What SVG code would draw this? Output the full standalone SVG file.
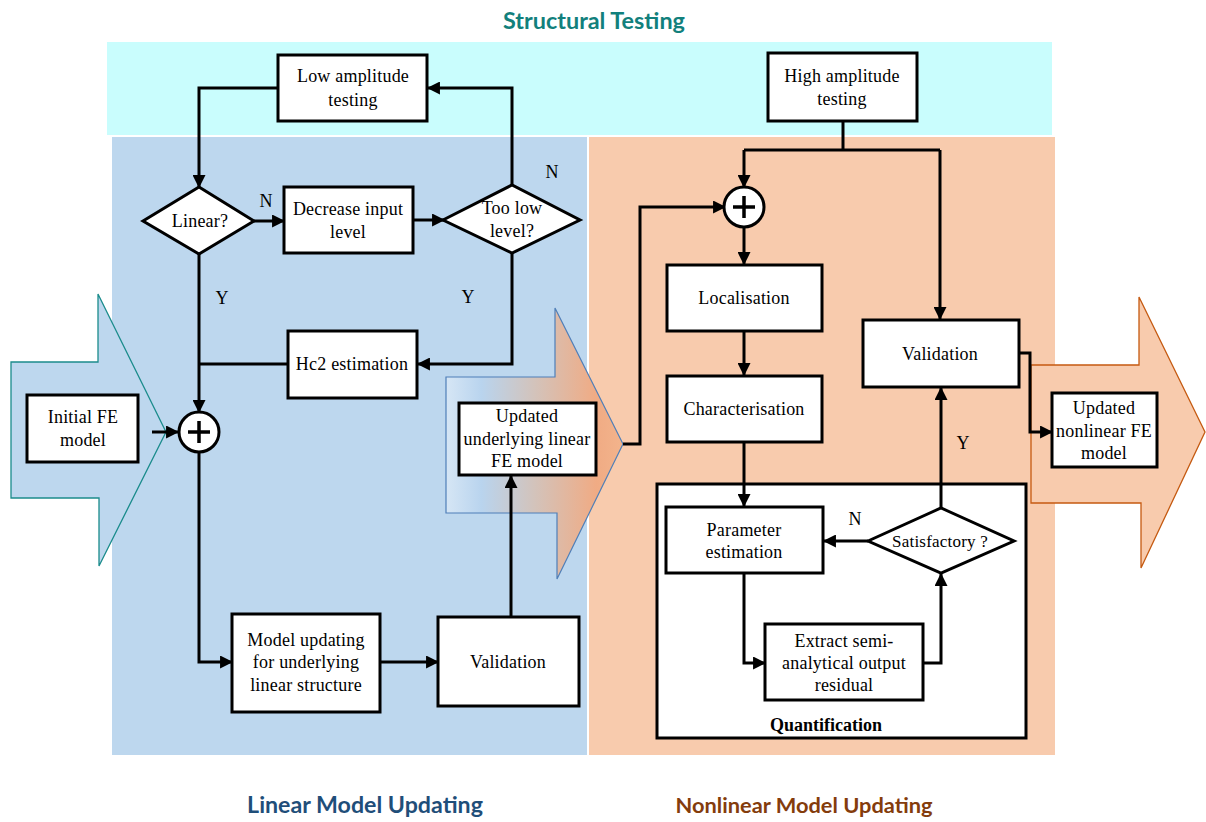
<svg xmlns="http://www.w3.org/2000/svg" width="1206" height="822" viewBox="0 0 1206 822">
<style>
.box{fill:#fff;stroke:#000;stroke-width:3}
.t{font-family:'Liberation Serif','DejaVu Serif',serif;font-size:18px;letter-spacing:0.2px;fill:#000;text-anchor:middle}
.lbl{font-family:'Liberation Serif','DejaVu Serif',serif;font-size:18px;fill:#000;text-anchor:middle}
.qt{font-family:'Liberation Serif','DejaVu Serif',serif;font-size:18px;font-weight:bold;fill:#000;text-anchor:middle}
.c{fill:none;stroke:#000;stroke-width:3}
.ca{fill:none;stroke:#000;stroke-width:3;marker-end:url(#ah)}
.head{font-family:Lato,'Open Sans',sans-serif;font-weight:bold;text-anchor:middle}
</style>
<defs>
<marker id="ah" viewBox="0 0 12 12" refX="11" refY="6" markerWidth="13" markerHeight="13" markerUnits="userSpaceOnUse" orient="auto">
<path d="M0,0 L12,6 L0,12 z" fill="#000"/>
</marker>
<linearGradient id="grad" x1="446" y1="0" x2="623" y2="0" gradientUnits="userSpaceOnUse">
<stop offset="0" stop-color="#d6e6f5"/>
<stop offset="0.2" stop-color="#b9d4ee"/>
<stop offset="0.5" stop-color="#d3c3bb"/>
<stop offset="0.85" stop-color="#f0ab84"/>
<stop offset="1" stop-color="#f3b48c"/>
</linearGradient>
</defs>

<g id="backgrounds">
<text class="head" x="594" y="29" font-size="23.4" fill="#12807c">Structural Testing</text>
<rect x="107" y="42" width="945" height="93" fill="#c9fdfd"/>
<rect x="112" y="137" width="475" height="618" fill="#bdd7ee"/>
<rect x="589" y="137" width="466" height="618" fill="#f8cbad"/>
<text class="head" x="365" y="813" font-size="23.2" fill="#1f4e79">Linear Model Updating</text>
<text class="head" x="804" y="813" font-size="21.8" fill="#843c0c">Nonlinear Model Updating</text>
<polygon points="11,362 98,362 98,294 166,432 99,566 99,498 11,498" fill="#bdd7ee" stroke="#1b8c8c" stroke-width="1.3"/>
<polygon points="446,377 555,377 555,308 623,444 557,579 557,513 446,513" fill="url(#grad)" stroke="#4f7fb8" stroke-width="1.2"/>
<polygon points="1031,365 1139,365 1139,297 1205,432 1141,568 1141,503 1031,503" fill="#f8cbad" stroke="#c55a11" stroke-width="1.3"/>
</g>

<g id="quantification">
<rect class="box" x="657" y="484" width="369" height="254"/>
<text class="qt" x="826" y="731">Quantification</text>
</g>

<g id="connectors">
<polyline class="ca" points="278,88 199,88 199,187"/>
<polyline class="ca" points="254,221 284,221"/>
<polyline class="ca" points="413,220 444,220"/>
<polyline class="ca" points="512,185 512,88 428,88"/>
<polyline class="ca" points="512,253 512,364 418,364"/>
<polyline class="ca" points="199,254 199,412"/>
<polyline class="c" points="288,364 199,364"/>
<polyline class="ca" points="152,432 178,432"/>
<polyline class="ca" points="199,452 199,662 232,662"/>
<polyline class="ca" points="380,662 438,662"/>
<polyline class="ca" points="511,617 511,476"/>
<polyline class="ca" points="623,444 640,444 640,207 725,207"/>
<polyline class="c" points="843,121 843,150"/>
<polyline class="c" points="744,150 940,150"/>
<polyline class="ca" points="744,150 744,187"/>
<polyline class="ca" points="940,150 940,319"/>
<polyline class="ca" points="744,227 744,264"/>
<polyline class="ca" points="744,331 744,375"/>
<polyline class="ca" points="744,442 744,506"/>
<polyline class="ca" points="868,541 824,541"/>
<polyline class="ca" points="744,573 744,663 765,663"/>
<polyline class="ca" points="923,663 941,663 941,574"/>
<polyline class="ca" points="941,508 941,388"/>
<polyline class="ca" points="1019,353 1030,353 1030,432 1052,432"/>
<text class="lbl" x="266" y="207">N</text>
<text class="lbl" x="552" y="178">N</text>
<text class="lbl" x="222" y="304">Y</text>
<text class="lbl" x="468" y="303">Y</text>
<text class="lbl" x="855" y="525">N</text>
<text class="lbl" x="963" y="449">Y</text>
</g>

<g id="low-amplitude">
<rect class="box" x="278" y="55" width="149" height="66"/>
<text class="t" x="353" y="82">Low amplitude</text>
<text class="t" x="353" y="106">testing</text>
</g>
<g id="high-amplitude">
<rect class="box" x="768" y="53" width="149" height="68"/>
<text class="t" x="842" y="82">High amplitude</text>
<text class="t" x="842" y="105">testing</text>
</g>
<g id="linear-q">
<polygon class="box" points="143,221 199,187 254,221 199,254"/>
<text class="t" x="200" y="227">Linear?</text>
</g>
<g id="decrease">
<rect class="box" x="284" y="187" width="129" height="66"/>
<text class="t" x="348" y="215">Decrease input</text>
<text class="t" x="348" y="238">level</text>
</g>
<g id="too-low">
<polygon class="box" points="443,220 512,185 580,220 512,253"/>
<text class="t" x="512" y="214">Too low</text>
<text class="t" x="512" y="237">level?</text>
</g>
<g id="hc2">
<rect class="box" x="288" y="331" width="129" height="67"/>
<text class="t" x="352" y="370">Hc2 estimation</text>
</g>
<g id="initial-fe">
<rect class="box" x="27" y="395" width="111" height="67"/>
<text class="t" x="83" y="423">Initial FE</text>
<text class="t" x="83" y="446">model</text>
</g>
<g id="sum-left">
<circle cx="199" cy="432" r="20" fill="#fff" stroke="#000" stroke-width="3"/>
<path d="M188,432 H210 M199,421 V443" stroke="#000" stroke-width="3.5"/>
</g>
<g id="updated-linear">
<rect class="box" x="459" y="403" width="137" height="72"/>
<text class="t" x="527" y="422">Updated</text>
<text class="t" x="527" y="445">underlying linear</text>
<text class="t" x="527" y="467">FE model</text>
</g>
<g id="model-updating">
<rect class="box" x="232" y="614" width="148" height="98"/>
<text class="t" x="306" y="646">Model updating</text>
<text class="t" x="306" y="668">for underlying</text>
<text class="t" x="306" y="691">linear structure</text>
</g>
<g id="validation-left">
<rect class="box" x="438" y="617" width="141" height="89"/>
<text class="t" x="508" y="668">Validation</text>
</g>
<g id="sum-right">
<circle cx="744" cy="207" r="20" fill="#fff" stroke="#000" stroke-width="3"/>
<path d="M733,207 H755 M744,196 V218" stroke="#000" stroke-width="3.5"/>
</g>
<g id="localisation">
<rect class="box" x="667" y="265" width="155" height="66"/>
<text class="t" x="744" y="304">Localisation</text>
</g>
<g id="characterisation">
<rect class="box" x="667" y="376" width="155" height="66"/>
<text class="t" x="744" y="415">Characterisation</text>
</g>
<g id="validation-right">
<rect class="box" x="863" y="320" width="156" height="67"/>
<text class="t" x="940" y="360">Validation</text>
</g>
<g id="parameter-estimation">
<rect class="box" x="666" y="507" width="157" height="66"/>
<text class="t" x="744" y="536">Parameter</text>
<text class="t" x="744" y="558">estimation</text>
</g>
<g id="satisfactory">
<polygon class="box" points="868,541 941,508 1014,541 941,573"/>
<text class="t" x="940" y="547" style="font-size:17px">Satisfactory ?</text>
</g>
<g id="extract">
<rect class="box" x="765" y="624" width="158" height="76"/>
<text class="t" x="844" y="647">Extract semi-</text>
<text class="t" x="844" y="669">analytical output</text>
<text class="t" x="844" y="691">residual</text>
</g>
<g id="updated-nonlinear">
<rect class="box" x="1052" y="393" width="105" height="74"/>
<text class="t" x="1104" y="414">Updated</text>
<text class="t" x="1104" y="437">nonlinear FE</text>
<text class="t" x="1104" y="459">model</text>
</g>
</svg>
